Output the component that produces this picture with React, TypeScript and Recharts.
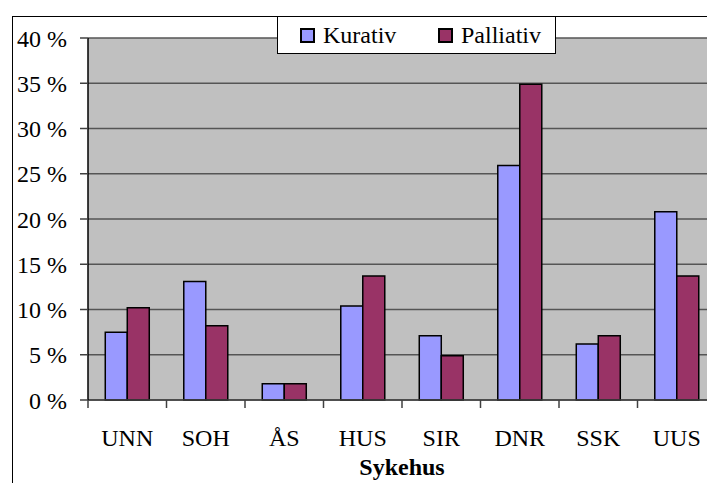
import { BarChart, Bar, XAxis, YAxis, CartesianGrid, Legend } from "recharts";

const hospitals = ["UNN", "SOH", "ÅS", "HUS", "SIR", "DNR", "SSK", "UUS"];
const kurativ = [7.5, 13.1, 1.8, 10.4, 7.1, 25.9, 6.2, 20.8];
const palliativ = [10.2, 8.2, 1.8, 13.7, 4.9, 34.9, 7.1, 13.7];
const yTicks = [0, 5, 10, 15, 20, 25, 30, 35, 40];

const data = hospitals.map((name, i) => ({
  name,
  Kurativ: kurativ[i],
  Palliativ: palliativ[i],
}));

const font = "Liberation Serif, Times New Roman, serif";

// category label plus the little tick on the left edge of each band
function HospitalTick({ x, y, payload }: any) {
  const half = payload?.offset ?? 39;
  return (
    <g>
      <line x1={x - half} x2={x - half} y1={y - 29} y2={y - 21} stroke="#404040" strokeWidth={1.5} />
      <text x={x} y={y} dy={17} textAnchor="middle" style={{ fontFamily: font }} fontSize={24} fill="#000">
        {payload.value}
      </text>
    </g>
  );
}

function LegendBox({ payload }: any) {
  return (
    <div
      style={{
        width: 279,
        height: 38,
        boxSizing: "border-box",
        border: "1px solid #000",
        background: "#fff",
        display: "flex",
        alignItems: "center",
        paddingLeft: 22,
        fontFamily: font,
        fontSize: 24,
        color: "#000",
      }}
    >
      {(payload || []).map((entry: any, i: number) => (
        <div
          key={entry.value}
          style={{ display: "flex", alignItems: "center", width: i === 0 ? 138 : undefined }}
        >
          <span
            style={{
              display: "inline-block",
              width: 11,
              height: 11,
              border: "2px solid #000",
              background: entry.color,
            }}
          />
          <span style={{ marginLeft: 8, fontFamily: font }}>{entry.value}</span>
        </div>
      ))}
    </div>
  );
}

export default function App() {
  return (
    <div
      style={{
        width: 707,
        height: 483,
        overflow: "hidden",
        position: "relative",
        background: "#fff",
        fontFamily: font,
      }}
    >
      <style>{"body{margin:0;overflow:hidden} .recharts-wrapper, .recharts-wrapper text{font-family:'Liberation Serif', serif !important}"}</style>
      <div
        style={{
          position: "absolute",
          left: 12,
          top: 16,
          width: 720,
          height: 480,
          border: "1px solid #000",
          background: "#fff",
        }}
      >
        <BarChart
          width={720}
          height={480}
          data={data}
          margin={{ top: 21, right: 17, left: 0, bottom: 0 }}
          barCategoryGap="22%"
          barGap={0}
          style={{ fontFamily: font }}
        >
          <CartesianGrid vertical={false} stroke="#555" strokeWidth={1.5} fill="#C0C0C0" />
          <XAxis
            dataKey="name"
            interval={0}
            height={97}
            tickSize={8}
            tickMargin={21}
            tickLine={false}
            axisLine={{ stroke: "#404040", strokeWidth: 1.5 }}
            tick={<HospitalTick />}
            label={{
              value: "Sykehus",
              position: "insideBottom",
              offset: 22,
              fontSize: 24,
              fontWeight: "bold",
              fill: "#000",
            }}
          />
          <YAxis
            width={75}
            domain={[0, 40]}
            ticks={yTicks}
            interval={0}
            tickSize={8}
            tickMargin={13}
            tickFormatter={(v: number) => `${v} %`}
            tick={{ fontSize: 24, fill: "#000" }}
            tickLine={{ stroke: "#404040", strokeWidth: 1.5 }}
            axisLine={{ stroke: "#000", strokeWidth: 1.5 }}
          />
          <Legend
            layout="horizontal"
            verticalAlign="middle"
            align="center"
            content={<LegendBox />}
            wrapperStyle={{ position: "absolute", left: 264, top: -1, width: 279 }}
          />
          <Bar dataKey="Kurativ" fill="#9999FF" stroke="#000" strokeWidth={1.5} isAnimationActive={false} />
          <Bar dataKey="Palliativ" fill="#993366" stroke="#000" strokeWidth={1.5} isAnimationActive={false} />
        </BarChart>
      </div>
    </div>
  );
}
